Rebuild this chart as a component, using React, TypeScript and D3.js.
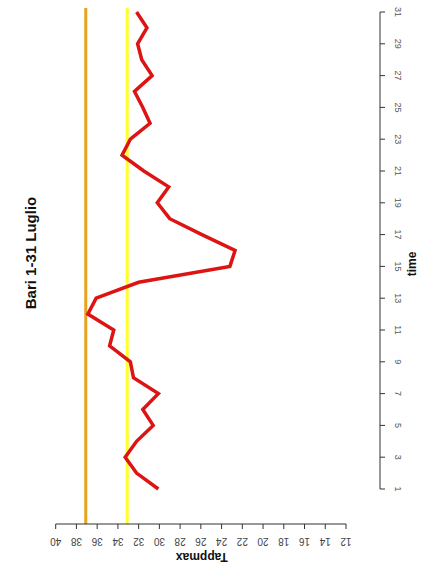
import React from 'react'
import * as d3 from 'd3'

// giorni di luglio e temperatura apparente massima
const days = d3.range(1, 32)
const tappmax = [
  30.1, 32.2, 33.3, 32.2, 30.6, 31.6, 30.1, 32.5, 32.8, 34.8,
  34.4, 36.9, 36.1, 32.0, 23.2, 22.7, 25.9, 29.0, 30.2, 29.1,
  31.5, 33.6, 32.8, 30.9, 31.6, 32.4, 30.7, 31.7, 32.1, 31.2, 32.2
]
const thresholds = [
  { value: 37.1, color: '#e8a31c' },
  { value: 33.1, color: '#ffff2a' }
]
const valueTicks = d3.range(40, 11, -2)
const dayTicks = d3.range(1, 32, 2)

const W = 422
const H = 569

export default function App() {
  // asse dei valori orizzontale (ruotato), 40 a sinistra
  const x = d3.scaleLinear().domain([40, 12]).range([55.7, 346])
  // asse del tempo verticale, 1 in basso
  const y = d3.scaleLinear().domain([1, 31]).range([489, 12])

  const line = d3.line<number>()
    .x(d => x(d))
    .y((d, i) => y(days[i]))

  const axisY = 524
  const axisX = 380
  const font = 'Liberation Sans, Arial, sans-serif'

  return (
    <svg width={W} height={H} style={{ display: 'block', position: 'absolute', left: 0, top: 0 }}>
      <rect width={W} height={H} fill="#fff" />

      {thresholds.map(t => (
        <line key={t.value} x1={x(t.value)} x2={x(t.value)} y1={8} y2={axisY}
          stroke={t.color} strokeWidth={3} />
      ))}

      <path d={line(tappmax) || ''} fill="none" stroke="#dd1414" strokeWidth={3.5}
        strokeLinejoin="miter" strokeLinecap="butt" />

      {/* asse Tappmax */}
      <g fontFamily={font} fontSize={10} fill="#444">
        <line x1={x(40)} x2={x(12)} y1={axisY} y2={axisY} stroke="#333" />
        {valueTicks.map(v => (
          <g key={v}>
            <line x1={x(v)} x2={x(v)} y1={axisY} y2={axisY + 5} stroke="#333" />
            <text transform={`translate(${x(v)},${axisY + 17}) rotate(180)`} textAnchor="middle"
              dominantBaseline="middle">{v}</text>
          </g>
        ))}
        <text transform={`translate(${(x(40) + x(12)) / 2 + 1},${axisY + 32}) rotate(180)`}
          textAnchor="middle" dominantBaseline="middle" fontSize={12} fontWeight="bold" fill="#111">Tappmax</text>
      </g>

      {/* asse del tempo */}
      <g fontFamily={font} fontSize={9} fill="#555">
        <line x1={axisX} x2={axisX} y1={y(1)} y2={y(31)} stroke="#333" />
        {dayTicks.map(d => (
          <g key={d}>
            <line x1={axisX} x2={axisX + 5} y1={y(d)} y2={y(d)} stroke="#333" />
            <text transform={`translate(${axisX + 17},${y(d)}) rotate(90)`} textAnchor="middle"
              dominantBaseline="middle">{d}</text>
          </g>
        ))}
        <text transform={`translate(${axisX + 33},264) rotate(-90)`} textAnchor="middle"
          dominantBaseline="middle" fontSize={12} fontWeight="bold" fill="#111">time</text>
      </g>

      <text transform="translate(32,253) rotate(-90)" textAnchor="middle" dominantBaseline="middle"
        fontFamily={font} fontSize={15} fontWeight="bold" fill="#111">Bari 1-31 Luglio</text>
    </svg>
  )
}
